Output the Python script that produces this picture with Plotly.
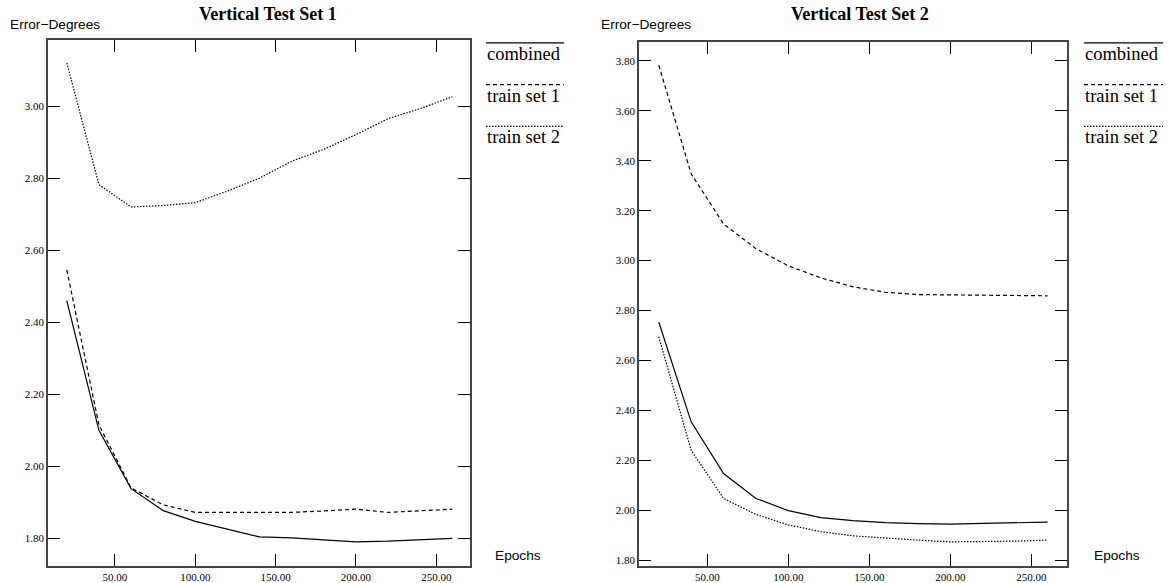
import plotly.graph_objects as go

epochs = [20, 40, 60, 80, 100, 120, 140, 160, 180, 200, 220, 240, 260]

set1_combined = [2.46, 2.10, 1.938, 1.877, 1.847, 1.825, 1.804, 1.801, 1.796, 1.790, 1.792, 1.795, 1.800]
set1_train1 = [2.545, 2.115, 1.94, 1.893, 1.872, 1.872, 1.872, 1.872, 1.876, 1.881, 1.872, 1.877, 1.881]
set1_train2 = [3.12, 2.782, 2.72, 2.724, 2.732, 2.764, 2.80, 2.847, 2.88, 2.921, 2.965, 2.993, 3.026]

set2_combined = [2.754, 2.354, 2.147, 2.047, 1.998, 1.970, 1.958, 1.950, 1.946, 1.944, 1.947, 1.948, 1.952]
set2_train1 = [3.783, 3.348, 3.147, 3.048, 2.979, 2.931, 2.895, 2.873, 2.864, 2.863, 2.861, 2.860, 2.859]
set2_train2 = [2.695, 2.24, 2.047, 1.983, 1.941, 1.914, 1.897, 1.888, 1.880, 1.873, 1.873, 1.876, 1.880]

series_names = ["combined", "train set 1", "train set 2"]
titles = ["Vertical Test Set 1", "Vertical Test Set 2"]
x_ticks = [50, 100, 150, 200, 250]
y_ticks1 = [1.80, 2.00, 2.20, 2.40, 2.60, 2.80, 3.00]
y_ticks2 = [1.80, 2.00, 2.20, 2.40, 2.60, 2.80, 3.00, 3.20, 3.40, 3.60, 3.80]

W, H = 1168, 583
dashes = ["solid", "4px,3px", "1.5px,1.5px"]

fig = go.Figure()
panels = [
    (set1_combined, set1_train1, set1_train2, "x", "y"),
    (set2_combined, set2_train1, set2_train2, "x2", "y2"),
]
for data in panels:
    xa, ya = data[3], data[4]
    for vals, name, dash in zip(data[:3], series_names, dashes):
        fig.add_trace(go.Scatter(
            x=epochs, y=vals, name=name, mode="lines",
            line=dict(color="black", width=1.2, dash=dash),
            xaxis=xa, yaxis=ya, showlegend=False))


def px_x(p):
    return p / W


def px_y(p):
    return 1 - p / H


tickfont = dict(family="Liberation Serif, Times New Roman, serif", size=11, color="black")
common_axis = dict(showline=True, linecolor="#444", linewidth=1.5, mirror="ticks",
                   ticks="inside", ticklen=12, tickwidth=1.2, tickcolor="black",
                   showgrid=False, zeroline=False, tickfont=tickfont, tickformat=".2f")

fig.update_layout(
    width=W, height=H,
    margin=dict(l=0, r=0, t=0, b=0),
    paper_bgcolor="white", plot_bgcolor="white",
    xaxis=dict(domain=[px_x(48), px_x(470)], range=[8.3, 271], tickvals=x_ticks, anchor="y", **common_axis),
    yaxis=dict(domain=[px_y(569), px_y(40)], range=[1.723, 3.184], tickvals=y_ticks1, anchor="x", **common_axis),
    xaxis2=dict(domain=[px_x(639), px_x(1067)], range=[7.8, 272], tickvals=x_ticks, anchor="y2", **common_axis),
    yaxis2=dict(domain=[px_y(569), px_y(42)], range=[1.776, 3.877], tickvals=y_ticks2, anchor="x2", **common_axis),
)

annotations = []
shapes = []
title_font = dict(family="Liberation Serif, Times New Roman, serif", size=18, color="black")
label_font = dict(family="Liberation Sans, Arial, sans-serif", size=13.7, color="black")
legend_font = dict(family="Liberation Serif, Times New Roman, serif", size=18.5, color="black")

panel_geo = [
    dict(title_x=268, ylab_x=8, ep_x=493, leg_x0=486, leg_x1=564),
    dict(title_x=860, ylab_x=599, ep_x=1092, leg_x0=1084, leg_x1=1163),
]
for g, t in zip(panel_geo, titles):
    annotations.append(dict(text="<b>" + t + "</b>", x=px_x(g["title_x"]), y=px_y(14),
                            xref="paper", yref="paper", xanchor="center", yanchor="middle",
                            showarrow=False, font=title_font))
    annotations.append(dict(text="Error\u2212Degrees", x=px_x(g["ylab_x"]), y=px_y(25),
                            xref="paper", yref="paper", xanchor="left", yanchor="middle",
                            showarrow=False, font=label_font))
    annotations.append(dict(text="Epochs", x=px_x(g["ep_x"]), y=px_y(558),
                            xref="paper", yref="paper", xanchor="left", yanchor="middle",
                            showarrow=False, font=label_font))
    for i, (name, dash) in enumerate(zip(series_names, dashes)):
        ly = 43 + i * 42
        shapes.append(dict(type="line", xref="paper", yref="paper",
                           x0=px_x(g["leg_x0"]), x1=px_x(g["leg_x1"]), y0=px_y(ly), y1=px_y(ly),
                           line=dict(color="black", width=1.2, dash=dash)))
        annotations.append(dict(text=name, x=px_x(g["leg_x0"] - 1), y=px_y(ly + 11),
                                xref="paper", yref="paper", xanchor="left", yanchor="middle",
                                showarrow=False, font=legend_font))

fig.update_layout(annotations=annotations, shapes=shapes)
# remove the browser's default page margin so the figure fills the window exactly
fig.write_html("out.html",
               config={"displayModeBar": False},
               post_script="document.body.style.margin='0';document.body.style.overflow='hidden';")
